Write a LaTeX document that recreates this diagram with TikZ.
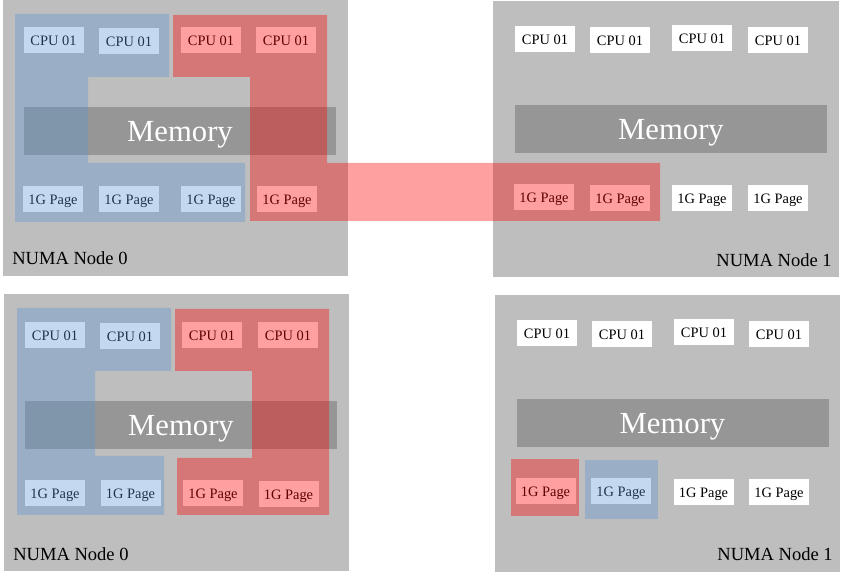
\documentclass[tikz,border=0pt]{standalone}
\usepackage{fontspec}
\setmainfont{Liberation Serif}
\definecolor{panelgray}{RGB}{190,190,190}
\definecolor{memgray}{RGB}{150,150,150}
\definecolor{ovred}{RGB}{255,5,5}
\definecolor{ovblue}{RGB}{88,150,210}
\begin{document}
\begin{tikzpicture}[x=0.75pt,y=-0.75pt,
  panel/.style={fill=panelgray},
  cpubox/.style={fill=white,inner sep=0pt,minimum width=45pt,minimum height=19.5pt,text height=0.8em,text depth=0pt,font=\fontsize{10.8}{12}\selectfont},
  pagebox/.style={cpubox},
  membar/.style={fill=memgray,text=white,inner sep=0pt,minimum width=234pt,minimum height=36pt,text depth=0pt,font=\fontsize{23}{27}\selectfont},
  numalabel/.style={inner sep=0pt,font=\fontsize{13.9}{16}\selectfont},
  redzone/.style={fill=ovred,fill opacity=0.38},
  bluezone/.style={fill=ovblue,fill opacity=0.354}]
  \useasboundingbox (0,0) rectangle (847,577);

  \fill[panel] (3,0) rectangle (348,276);
  \fill[panel] (493,1) rectangle (839,277);
  \fill[panel] (4,294) rectangle (349,571);
  \fill[panel] (495,295) rectangle (840,572);

  \node[membar] (tl-mem) at (180,131) {Memory};
  \node[membar] (tr-mem) at (671,129) {Memory};
  \node[membar] (bl-mem) at (181,425) {Memory};
  \node[membar] (br-mem) at (672.5,423) {Memory};

  \node[cpubox] (tl-cpu1) at (53.5,40) {CPU 01};
  \node[cpubox] (tl-cpu2) at (129,41.5) {CPU 01};
  \node[cpubox] (tl-cpu3) at (211,40) {CPU 01};
  \node[cpubox] (tl-cpu4) at (286,40) {CPU 01};
  \node[pagebox] (tl-page1) at (53,199) {1G Page};
  \node[pagebox] (tl-page2) at (129,199) {1G Page};
  \node[pagebox] (tl-page3) at (211,199) {1G Page};
  \node[pagebox] (tl-page4) at (287,199) {1G Page};

  \node[cpubox] (tr-cpu1) at (545,39) {CPU 01};
  \node[cpubox] (tr-cpu2) at (620,40) {CPU 01};
  \node[cpubox] (tr-cpu3) at (702,38.5) {CPU 01};
  \node[cpubox] (tr-cpu4) at (778,40) {CPU 01};
  \node[pagebox] (tr-page1) at (544,197) {1G Page};
  \node[pagebox] (tr-page2) at (620,198) {1G Page};
  \node[pagebox] (tr-page3) at (702,198) {1G Page};
  \node[pagebox] (tr-page4) at (778,198) {1G Page};

  \node[cpubox] (bl-cpu1) at (55,335) {CPU 01};
  \node[cpubox] (bl-cpu2) at (130,336) {CPU 01};
  \node[cpubox] (bl-cpu3) at (212,335) {CPU 01};
  \node[cpubox] (bl-cpu4) at (288,335) {CPU 01};
  \node[pagebox] (bl-page1) at (55,493.5) {1G Page};
  \node[pagebox] (bl-page2) at (130.5,493.5) {1G Page};
  \node[pagebox] (bl-page3) at (213,493.5) {1G Page};
  \node[pagebox] (bl-page4) at (288.5,494) {1G Page};

  \node[cpubox] (br-cpu1) at (547,333) {CPU 01};
  \node[cpubox] (br-cpu2) at (622,334) {CPU 01};
  \node[cpubox] (br-cpu3) at (704,332) {CPU 01};
  \node[cpubox] (br-cpu4) at (779,334) {CPU 01};
  \node[pagebox] (br-page1) at (545.5,491.5) {1G Page};
  \node[pagebox] (br-page2) at (621,491.5) {1G Page};
  \node[pagebox] (br-page3) at (703.5,492) {1G Page};
  \node[pagebox] (br-page4) at (779,492) {1G Page};

  \fill[bluezone] (15,14) -- (169,14) -- (169,77) -- (88,77) -- (88,163)
    -- (245,163) -- (245,222) -- (15,222) -- cycle;
  \fill[redzone] (173,15) -- (327,15) -- (327,163) -- (660,163) -- (660,221)
    -- (250,221) -- (250,77) -- (173,77) -- cycle;
  \fill[bluezone] (17,308) -- (171,308) -- (171,371) -- (95,371) -- (95,456)
    -- (164,456) -- (164,515) -- (17,515) -- cycle;
  \fill[redzone] (175,309) -- (329,309) -- (329,515) -- (177,515) -- (177,458)
    -- (252,458) -- (252,371) -- (175,371) -- cycle;
  \fill[redzone] (511,459) rectangle (579,516);
  \fill[bluezone] (585,460) rectangle (658,519);

  \node[numalabel,anchor=base west] (tl-name) at (12,265) {NUMA Node 0};
  \node[numalabel,anchor=base east] (tr-name) at (832,267) {NUMA Node 1};
  \node[numalabel,anchor=base west] (bl-name) at (13,561) {NUMA Node 0};
  \node[numalabel,anchor=base east] (br-name) at (833,561) {NUMA Node 1};
\end{tikzpicture}
\end{document}
